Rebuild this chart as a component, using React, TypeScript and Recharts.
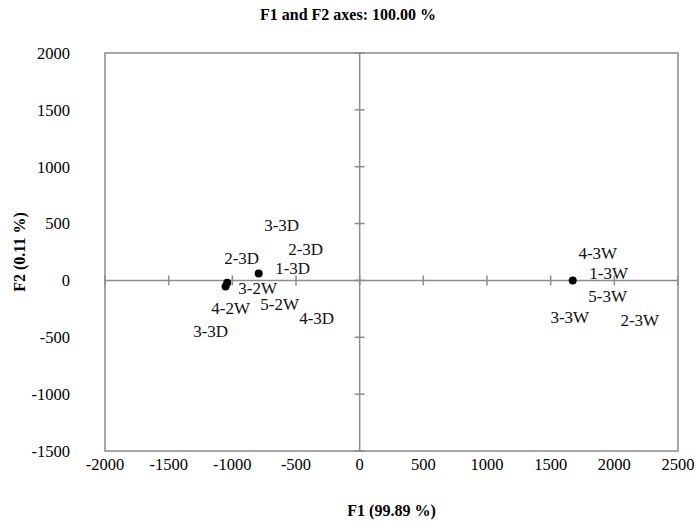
import React from 'react';
import {
  ScatterChart,
  Scatter,
  XAxis,
  YAxis,
  ReferenceArea,
  ReferenceLine,
  ReferenceDot,
  Label,
} from 'recharts';

type Obs = { name: string; x: number; y: number };

const xTicks = [-2000, -1500, -1000, -500, 0, 500, 1000, 1500, 2000, 2500];
const yTicks = [-1500, -1000, -500, 0, 500, 1000, 1500, 2000];

// observation points (many overlap)
const points: Obs[] = [
  { name: '4-2W', x: -1053, y: -53 },
  { name: '3-3D', x: -1040, y: -20 },
  { name: '3-2W', x: -793, y: 62 },
  { name: '1-3W', x: 1673, y: 0 },
];

// label anchors as placed by the layout
const labels: Obs[] = [
  { name: '3-3D', x: -613, y: 484 },
  { name: '2-3D', x: -927, y: 193 },
  { name: '2-3D', x: -424, y: 273 },
  { name: '1-3D', x: -526, y: 106 },
  { name: '3-2W', x: -801, y: -70 },
  { name: '4-2W', x: -1013, y: -246 },
  { name: '5-2W', x: -628, y: -211 },
  { name: '4-3D', x: -338, y: -334 },
  { name: '3-3D', x: -1170, y: -449 },
  { name: '4-3W', x: 1870, y: 237 },
  { name: '1-3W', x: 1956, y: 62 },
  { name: '5-3W', x: 1948, y: -141 },
  { name: '3-3W', x: 1650, y: -325 },
  { name: '2-3W', x: 2200, y: -352 },
];

const FONT = '"Liberation Serif", "Times New Roman", serif';
const GRAY = '#8c8c8c';

const App: React.FC = () => {
  return (
    <div style={{ position: 'absolute', left: 0, top: 0, width: 696, height: 524, background: '#fff' }}>
      <div
        style={{
          position: 'absolute',
          top: 6,
          width: 696,
          textAlign: 'center',
          fontFamily: FONT,
          fontWeight: 'bold',
          fontSize: 16,
        }}
      >
        F1 and F2 axes: 100.00 %
      </div>
      <ScatterChart width={696} height={524} margin={{ top: 53, right: 18, bottom: 0, left: 0 }}>
        <XAxis
          type="number"
          dataKey="x"
          domain={[-2000, 2500]}
          ticks={xTicks}
          allowDataOverflow
          axisLine={false}
          tickLine={false}
          tickSize={0}
          tickMargin={7}
          height={73}
          tick={{ fill: '#000', fontSize: 16.5, fontFamily: FONT }}
        >
          <Label
            content={({ viewBox }: any) => (
              <text
                x={viewBox.x + viewBox.width / 2}
                y={viewBox.y + viewBox.height - 8}
                textAnchor="middle"
                fontFamily={FONT}
                fontWeight="bold"
                fontSize={16}
                fill="#000"
              >
                F1 (99.89 %)
              </text>
            )}
          />
        </XAxis>
        <YAxis
          type="number"
          dataKey="y"
          domain={[-1500, 2000]}
          ticks={yTicks}
          allowDataOverflow
          axisLine={false}
          tickLine={false}
          tickSize={0}
          tickMargin={35}
          width={105}
          tick={{ fill: '#000', fontSize: 16.5, fontFamily: FONT }}
        >
          <Label
            content={({ viewBox }: any) => {
              const cx = viewBox.x + 25;
              const cy = viewBox.y + viewBox.height / 2;
              return (
                <text
                  x={cx}
                  y={cy}
                  transform={`rotate(-90 ${cx} ${cy})`}
                  textAnchor="middle"
                  fontFamily={FONT}
                  fontWeight="bold"
                  fontSize={16}
                  fill="#000"
                >
                  F2 (0.11 %)
                </text>
              );
            }}
          />
        </YAxis>
        <ReferenceArea x1={-2000} x2={2500} y1={-1500} y2={2000} fill="none" stroke={GRAY} strokeWidth={1.5} />
        <ReferenceLine x={0} stroke={GRAY} strokeWidth={1.5} />
        <ReferenceLine y={0} stroke={GRAY} strokeWidth={1.5} />
        {xTicks.map((t) => (
          <ReferenceDot
            key={'xt' + t}
            x={t}
            y={0}
            shape={(p: any) => (
              <line x1={p.cx} y1={p.cy - 5} x2={p.cx} y2={p.cy + 5} stroke={GRAY} strokeWidth={1.5} />
            )}
          />
        ))}
        {yTicks.map((t) => (
          <ReferenceDot
            key={'yt' + t}
            x={0}
            y={t}
            shape={(p: any) => (
              <line x1={p.cx - 5} y1={p.cy} x2={p.cx + 5} y2={p.cy} stroke={GRAY} strokeWidth={1.5} />
            )}
          />
        ))}
        <Scatter
          data={points}
          isAnimationActive={false}
          shape={(p: any) => <circle cx={p.cx} cy={p.cy} r={4} fill="#000" />}
        />
        <Scatter
          data={labels}
          isAnimationActive={false}
          shape={(p: any) => (
            <text
              x={p.cx}
              y={p.cy}
              textAnchor="middle"
              dominantBaseline="central"
              fontFamily={FONT}
              fontSize={17}
              fill="#111"
            >
              {p.payload.name}
            </text>
          )}
        />
      </ScatterChart>
    </div>
  );
};

export default App;
